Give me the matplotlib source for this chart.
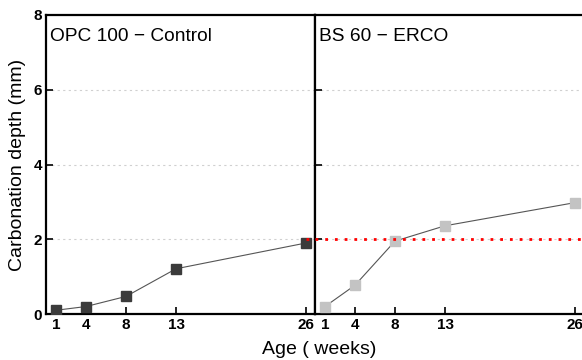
import matplotlib.pyplot as plt

weeks = [1, 4, 8, 13, 26]
opc_depth = [0.1, 0.2, 0.47, 1.21, 1.9]
bs_depth = [0.2, 0.77, 1.95, 2.36, 2.98]
limit_depth = 2.0

plt.rcParams['font.family'] = ['Liberation Sans', 'DejaVu Sans']

fig = plt.figure(figsize=(5.82, 3.6), dpi=100)
W, H = 582.0, 360.0
ax1 = fig.add_axes([46 / W, 1 - 314 / H, 269 / W, 299 / H])
ax2 = fig.add_axes([315 / W, 1 - 314 / H, 272 / W, 299 / H])

for ax, data, col, title, xmax in [(ax1, opc_depth, '#3b3b3b', 'OPC 100 \u2212 Control', 26.9),
                                   (ax2, bs_depth, '#c3c3c3', 'BS 60 \u2212 ERCO', 27.2)]:
    ax.set_xlim(0, xmax)
    ax.set_ylim(0, 8)
    for g in [2, 4, 6]:
        ax.axhline(g, color='#d0d0d0', linestyle=(0, (2, 3)), linewidth=0.8, zorder=0)
    ax.plot(weeks, data, color='#555555', linewidth=0.8, marker='s',
            markersize=7.5, markerfacecolor=col, markeredgecolor=col, zorder=3)
    ax.set_xticks(weeks)
    ax.set_xticklabels([str(w) for w in weeks], fontweight='bold', fontsize=11)
    ax.set_yticks([0, 2, 4, 6, 8])
    ax.tick_params(direction='in', length=5, width=1.2, pad=3)
    for s in ax.spines.values():
        s.set_linewidth(1.6)
    ax.text(4 / 269, 0.955, title, transform=ax.transAxes, fontsize=13.8,
            va='top', ha='left')

ax1.set_yticklabels(['0', '2', '4', '6', '8'], fontweight='bold', fontsize=11)
ax2.set_yticklabels([])
ax1.set_ylabel('Carbonation depth (mm)', fontsize=14, labelpad=5)
fig.text(319 / W, 1 - 350 / H, 'Age ( weeks)', ha='center', va='center', fontsize=14)

ax1.plot([26, 26.9], [limit_depth, limit_depth], color='red', linestyle=(0, (1, 2.5)),
         linewidth=2, zorder=4, clip_on=False)
ax2.axhline(limit_depth, color='red', linestyle=(0, (1, 2.5)), linewidth=2, zorder=4)

fig.savefig('out.png', dpi=100)
